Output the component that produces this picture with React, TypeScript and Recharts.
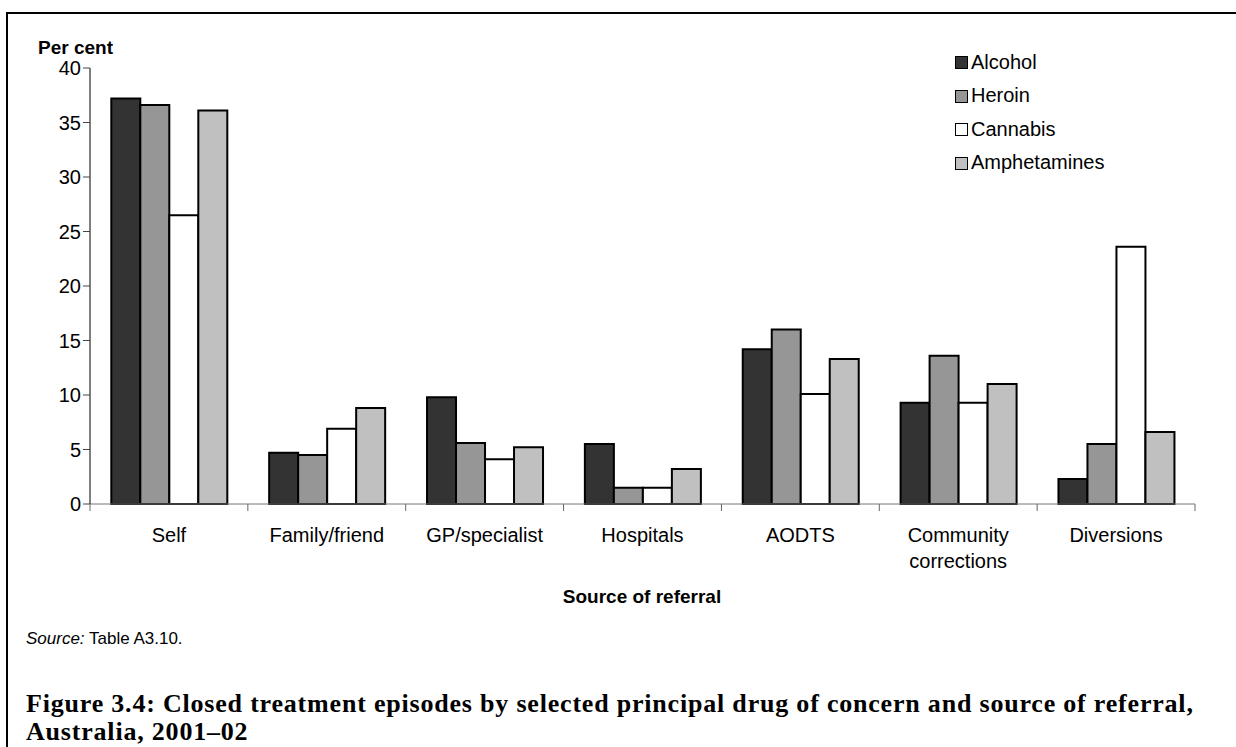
import React from 'react';
import { BarChart, Bar, XAxis, YAxis, Legend } from 'recharts';

const categories = ['Self', 'Family/friend', 'GP/specialist', 'Hospitals', 'AODTS', 'Community\ncorrections', 'Diversions'];
const alcohol = [37.2, 4.7, 9.8, 5.5, 14.2, 9.3, 2.3];
const heroin = [36.6, 4.5, 5.6, 1.5, 16.0, 13.6, 5.5];
const cannabis = [26.5, 6.9, 4.1, 1.5, 10.1, 9.3, 23.6];
const amphetamines = [36.1, 8.8, 5.2, 3.2, 13.3, 11.0, 6.6];
const yTicks = [0, 5, 10, 15, 20, 25, 30, 35, 40];

const series = [
  { key: 'Alcohol', fill: '#333333' },
  { key: 'Heroin', fill: '#969696' },
  { key: 'Cannabis', fill: '#ffffff' },
  { key: 'Amphetamines', fill: '#c0c0c0' },
];

const data = categories.map((name, i) => ({
  name,
  Alcohol: alcohol[i],
  Heroin: heroin[i],
  Cannabis: cannabis[i],
  Amphetamines: amphetamines[i],
}));

const SANS = '"Liberation Sans", Arial, sans-serif';
const SERIF = '"Liberation Serif", "Times New Roman", serif';

// plot area spans x 90..1195, y 68..504
const CHART_W = 1236;
const M_LEFT = 30;
const Y_W = 60;
const M_RIGHT = 41;
const BAND = (CHART_W - M_LEFT - Y_W - M_RIGHT) / categories.length;

const CategoryTick = (props: any) => {
  const { x, y, payload, index } = props;
  const lines = String(payload.value).split('\n');
  return (
    <g>
      <line x1={x - BAND / 2} x2={x - BAND / 2} y1={y} y2={y + 7} stroke="#666" strokeWidth={1} />
      {index === categories.length - 1 && (
        <line x1={x + BAND / 2} x2={x + BAND / 2} y1={y} y2={y + 7} stroke="#666" strokeWidth={1} />
      )}
      <text x={x} y={y + 38} textAnchor="middle" fontSize={20} fontFamily={SANS} fill="#000">
        {lines.map((l, i) => (
          <tspan key={i} x={x} dy={i === 0 ? 0 : 26}>{l}</tspan>
        ))}
      </text>
    </g>
  );
};

const LegendBox = () => (
  <div style={{ fontFamily: SANS, fontSize: 20, color: '#000' }}>
    {series.map((s) => (
      <div key={s.key} style={{ display: 'flex', alignItems: 'center', height: 33.5, lineHeight: '20px' }}>
        <span style={{ width: 11, height: 11, background: s.fill, border: '1.5px solid #000', marginRight: 3, marginTop: 2 }} />
        <span>{s.key}</span>
      </div>
    ))}
  </div>
);

const captionStyle: React.CSSProperties = {
  position: 'absolute',
  left: 26,
  fontFamily: SERIF,
  fontWeight: 'bold',
  fontSize: 26,
  lineHeight: '26px',
  letterSpacing: 0.8,
  whiteSpace: 'nowrap',
};

export default function App() {
  return (
    <div style={{ position: 'absolute', left: 0, top: 0, width: 1236, height: 747, background: '#fff', overflow: 'hidden' }}>
      <div style={{ position: 'absolute', left: 6, top: 12, width: 1300, height: 800, borderLeft: '2.5px solid #000', borderTop: '2.5px solid #000' }} />
      <div style={{ position: 'absolute', left: 38, top: 37, fontFamily: SANS, fontWeight: 'bold', fontSize: 19 }}>Per cent</div>
      <div style={{ position: 'absolute', left: 0, top: 0 }}>
        <BarChart
          width={CHART_W}
          height={600}
          data={data}
          margin={{ top: 68, right: M_RIGHT, left: M_LEFT, bottom: 0 }}
          barCategoryGap="13.5%"
          barGap={0}
        >
          <XAxis
            dataKey="name"
            height={96}
            interval={0}
            tickLine={false}
            tickSize={0}
            tickMargin={0}
            axisLine={{ stroke: '#777', strokeWidth: 1 }}
            tick={<CategoryTick />}
          />
          <YAxis
            width={Y_W}
            domain={[0, 40]}
            ticks={yTicks}
            interval={0}
            tickSize={7}
            tickMargin={2}
            tickLine={{ stroke: '#444' }}
            axisLine={{ stroke: '#000', strokeWidth: 1 }}
            tick={{ fontSize: 20, fontFamily: SANS, fill: '#000' }}
          />
          <Legend
            layout="vertical"
            align="center"
            verticalAlign="middle"
            content={<LegendBox />}
            wrapperStyle={{ top: 45, left: 955, width: 220, height: 140 }}
          />
          {series.map((s) => (
            <Bar key={s.key} dataKey={s.key} fill={s.fill} stroke="#000" strokeWidth={2} isAnimationActive={false} />
          ))}
        </BarChart>
      </div>
      <div style={{ position: 'absolute', left: 0, width: 1284, top: 586, textAlign: 'center', fontFamily: SANS, fontWeight: 'bold', fontSize: 19 }}>
        Source of referral
      </div>
      <div style={{ position: 'absolute', left: 26, top: 629, fontFamily: SANS, fontSize: 17 }}>
        <i>Source:</i> Table A3.10.
      </div>
      <div style={{ ...captionStyle, top: 691 }}>
        Figure 3.4: Closed treatment episodes by selected principal drug of concern and source of referral,
      </div>
      <div style={{ ...captionStyle, top: 719 }}>
        Australia, 2001–02
      </div>
    </div>
  );
}
